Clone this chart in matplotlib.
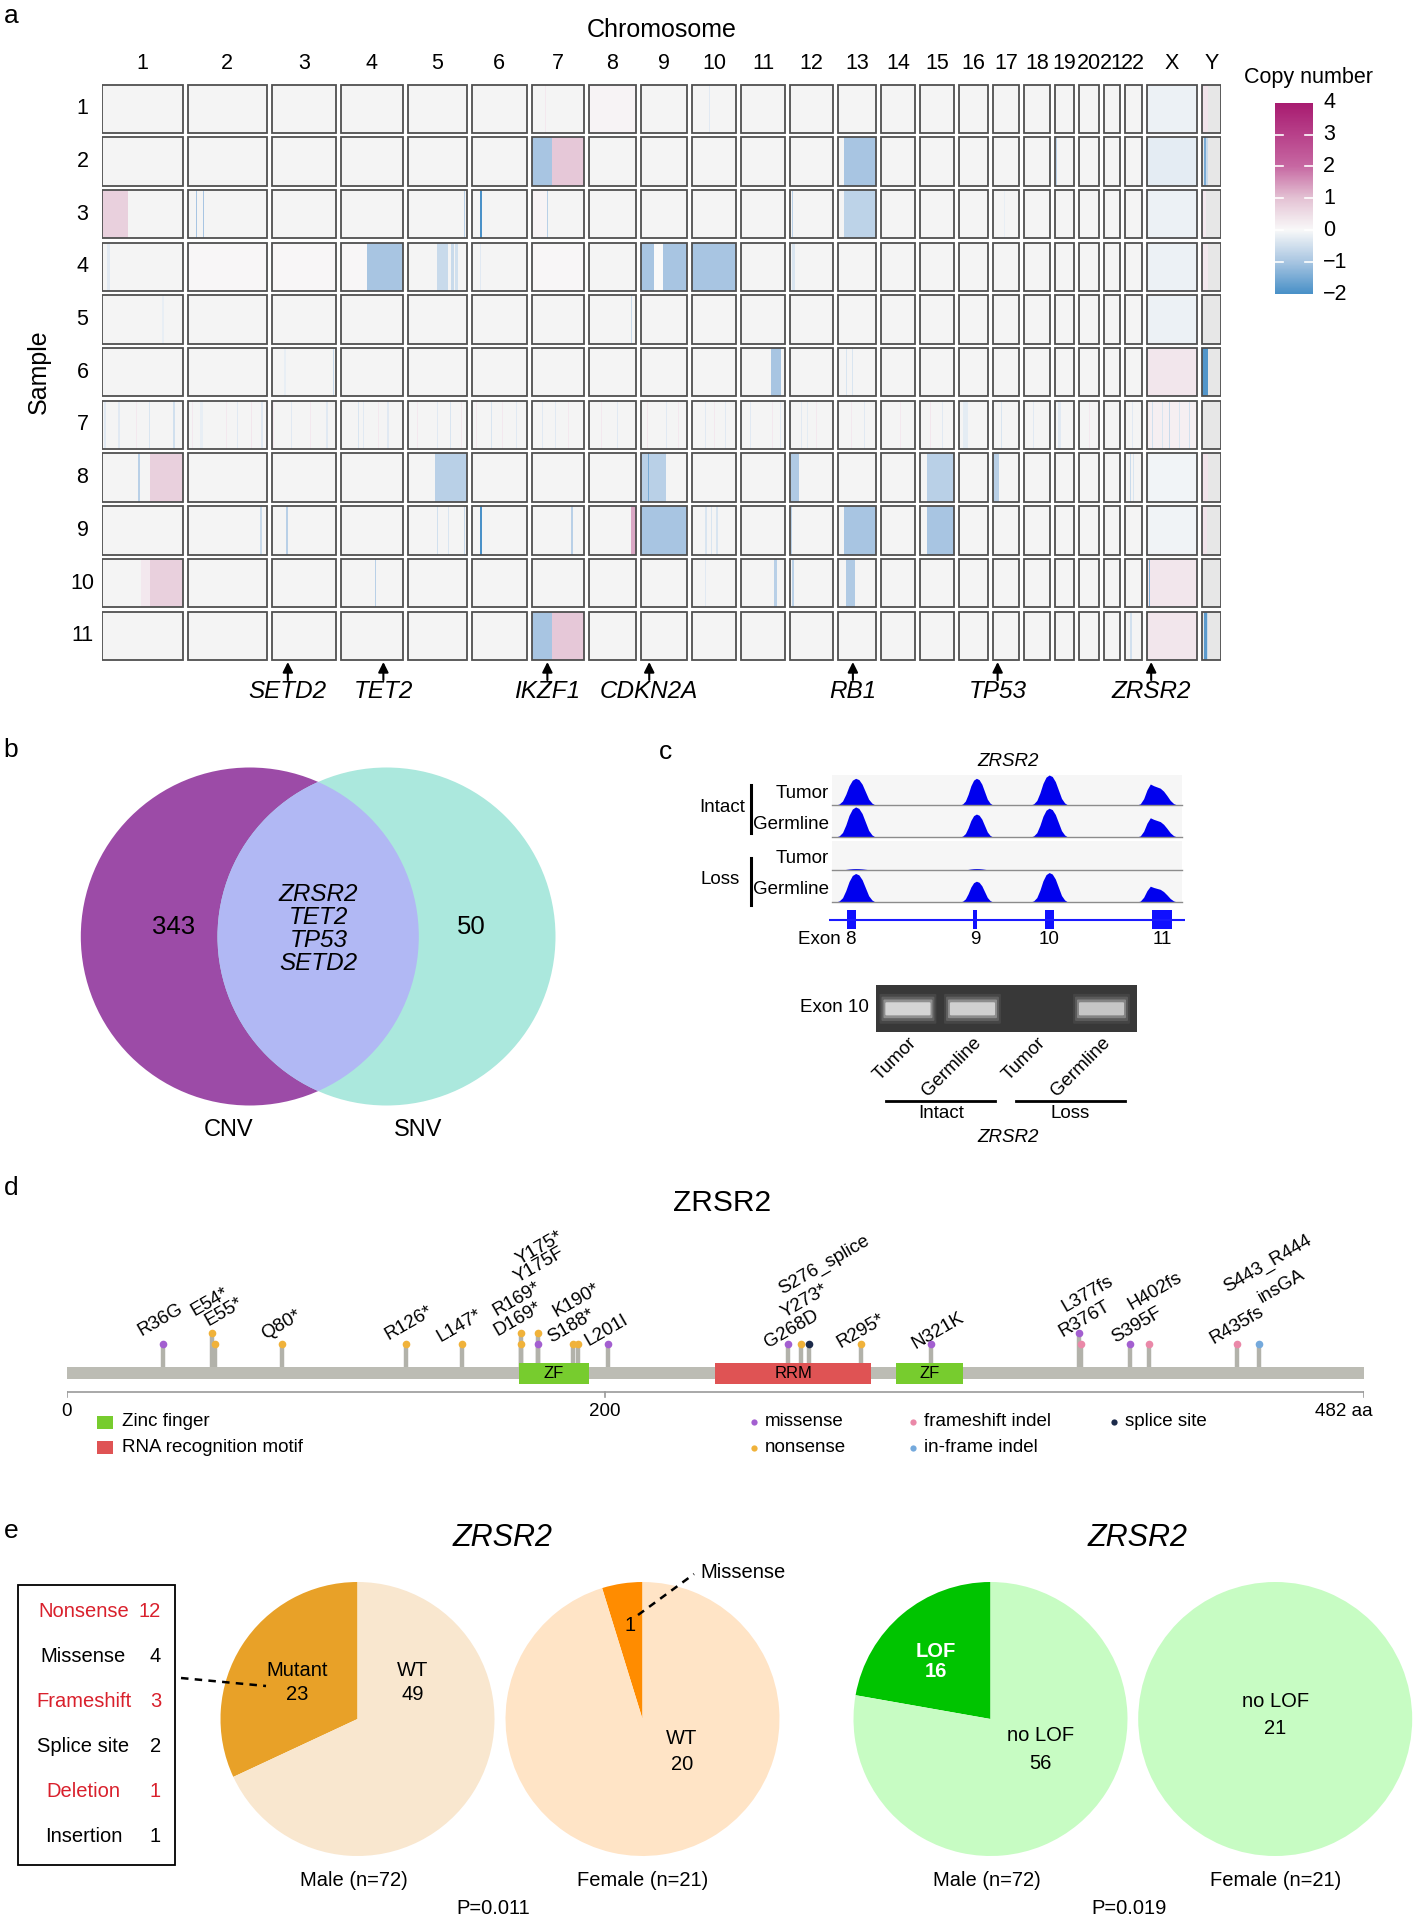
import numpy as np
import matplotlib
matplotlib.use("Agg")
import matplotlib.pyplot as plt
import matplotlib.transforms as mtransforms
from matplotlib.colors import LinearSegmentedColormap, Normalize
from matplotlib.patches import Rectangle, Circle, FancyBboxPatch

plt.rcParams["font.family"] = ["Liberation Sans", "DejaVu Sans"]

W, H = 1417, 1920

# ---------------- panel a: copy number heatmap ----------------
chrom_names = [str(i) for i in range(1, 23)] + ["X", "Y"]
chrom_len_mb = [249.3, 243.2, 198.0, 191.2, 180.9, 171.1, 159.1, 146.4, 141.2, 135.5, 135.0, 133.9,
                115.2, 107.3, 102.5, 90.4, 81.2, 78.1, 59.1, 63.0, 48.1, 51.3, 155.3, 59.4]
sample_ids = list(range(1, 12))

# segments per sample: (chromosome, start fraction, end fraction, copy number value)
cnv_s1 = [("7", 0.24, 0.26, 0.3), ("8", 0.0, 1.0, 0.12), ("10", 0.38, 0.40, -0.3),
          ("X", 0.0, 1.0, -0.15), ("Y", 0.0, 0.3, 0.4)]
cnv_s2 = [("7", 0.0, 0.38, -1.0), ("7", 0.38, 1.0, 0.9), ("13", 0.15, 1.0, -1.0), ("19", 0.08, 0.14, -0.8),
          ("X", 0.0, 1.0, -0.25), ("Y", 0.08, 0.2, -1.5), ("Y", 0.2, 0.3, -0.6)]
cnv_s3 = [("1", 0.0, 0.33, 0.75), ("2", 0.10, 0.12, -1.0), ("2", 0.19, 0.21, -1.0), ("5", 0.96, 0.98, -0.8),
          ("6", 0.16, 0.18, -2.0), ("7", 0.0, 0.28, 0.12), ("7", 0.28, 0.31, -0.8), ("12", 0.04, 0.08, -0.8),
          ("13", 0.15, 1.0, -0.75), ("17", 0.4, 0.45, -0.2), ("X", 0.0, 1.0, -0.15), ("Y", 0.0, 0.2, 0.3)]
cnv_s4 = [("1", 0.07, 0.10, -0.3), ("2", 0.0, 1.0, 0.06), ("3", 0.0, 1.0, 0.05), ("4", 0.0, 0.42, 0.05),
          ("4", 0.42, 1.0, -1.0), ("5", 0.5, 0.68, -0.6), ("5", 0.74, 0.78, -0.6), ("5", 0.80, 0.86, -0.5),
          ("6", 0.15, 0.17, -0.3), ("7", 0.0, 1.0, 0.06), ("9", 0.0, 0.27, -1.0), ("9", 0.27, 0.48, 0.0),
          ("9", 0.48, 1.0, -1.0), ("10", 0.0, 1.0, -1.0), ("12", 0.04, 0.12, -0.4),
          ("X", 0.0, 1.0, -0.15), ("Y", 0.0, 0.3, 0.3)]
cnv_s5 = [("1", 0.75, 0.77, -0.2), ("8", 0.88, 0.90, -0.6), ("X", 0.0, 1.0, -0.15)]
cnv_s6 = [("3", 0.2, 0.22, -0.2), ("3", 0.95, 0.97, -0.6), ("11", 0.68, 0.92, -1.0), ("13", 0.2, 0.22, -0.4),
          ("13", 0.38, 0.40, -0.4), ("X", 0.0, 1.0, 0.35), ("Y", 0.0, 0.32, -1.9)]
cnv_s7 = [("1", 0.03, 0.05, -0.3), ("1", 0.12, 0.13, 0.3), ("1", 0.2, 0.22, -0.3), ("1", 0.42, 0.44, 0.3),
          ("1", 0.58, 0.6, -0.4), ("1", 0.88, 0.9, -0.5), ("2", 0.05, 0.07, 0.3), ("2", 0.15, 0.2, -0.2),
          ("2", 0.48, 0.5, 0.3), ("2", 0.62, 0.64, -0.3), ("2", 0.8, 0.82, 0.35), ("2", 0.93, 0.95, -0.3),
          ("3", 0.02, 0.04, 0.3), ("3", 0.3, 0.32, -0.3), ("3", 0.6, 0.62, 0.3), ("3", 0.85, 0.87, -0.3),
          ("4", 0.28, 0.3, -0.4), ("4", 0.36, 0.38, -0.3), ("4", 0.6, 0.62, 0.3), ("4", 0.75, 0.77, -0.3),
          ("5", 0.15, 0.17, 0.3), ("5", 0.5, 0.52, -0.3), ("5", 0.72, 0.74, -0.4), ("5", 0.9, 0.92, 0.3),
          ("6", 0.08, 0.1, 0.3), ("6", 0.35, 0.37, -0.4), ("6", 0.55, 0.57, 0.3), ("6", 0.8, 0.82, -0.3),
          ("7", 0.2, 0.22, -0.3), ("7", 0.45, 0.47, -0.3), ("7", 0.7, 0.72, 0.3), ("8", 0.25, 0.27, 0.3),
          ("8", 0.6, 0.62, -0.3), ("9", 0.12, 0.14, 0.35), ("9", 0.55, 0.57, -0.3), ("9", 0.8, 0.82, 0.3),
          ("10", 0.3, 0.32, -0.3), ("10", 0.5, 0.52, 0.3), ("10", 0.75, 0.77, -0.3), ("11", 0.2, 0.22, -0.3),
          ("11", 0.7, 0.72, 0.3), ("11", 0.9, 0.92, -0.3), ("12", 0.25, 0.27, -0.3), ("12", 0.4, 0.42, -0.25),
          ("12", 0.6, 0.62, 0.3), ("13", 0.35, 0.37, 0.3), ("13", 0.7, 0.72, -0.3), ("14", 0.2, 0.22, -0.3),
          ("14", 0.55, 0.57, 0.3), ("15", 0.3, 0.32, 0.35), ("15", 0.65, 0.67, -0.3), ("16", 0.15, 0.3, -0.25),
          ("17", 0.1, 0.12, 0.3), ("17", 0.3, 0.33, -0.4), ("18", 0.35, 0.38, -0.3), ("19", 0.15, 0.3, -0.3),
          ("20", 0.5, 0.54, 0.3), ("21", 0.2, 0.26, -1.0), ("22", 0.45, 0.5, -0.3), ("X", 0.0, 1.0, 0.2),
          ("X", 0.1, 0.12, -0.5), ("X", 0.3, 0.32, -0.4), ("X", 0.45, 0.47, -0.6), ("X", 0.65, 0.67, -0.4),
          ("X", 0.85, 0.87, -0.5)]
cnv_s8 = [("1", 0.45, 0.47, -0.8), ("1", 0.6, 1.0, 0.75), ("5", 0.46, 1.0, -0.8), ("9", 0.0, 0.55, -0.8),
          ("9", 0.14, 0.16, -1.5), ("12", 0.02, 0.2, -0.9), ("15", 0.2, 1.0, -0.8), ("17", 0.0, 0.22, -0.8),
          ("22", 0.3, 0.36, -0.6), ("22", 0.5, 0.53, -0.4), ("X", 0.0, 1.0, -0.1), ("Y", 0.0, 0.3, 0.4)]
cnv_s9 = [("2", 0.92, 0.94, -0.6), ("3", 0.23, 0.26, -0.8), ("5", 0.5, 0.52, -0.5), ("5", 0.68, 0.70, -0.4),
          ("5", 0.95, 0.97, -0.6), ("6", 0.16, 0.18, -2.0), ("7", 0.75, 0.80, -0.8), ("8", 0.88, 1.0, 1.3),
          ("9", 0.0, 1.0, -1.0), ("10", 0.30, 0.35, -0.4), ("10", 0.42, 0.45, -0.4), ("10", 0.55, 0.60, -0.4),
          ("12", 0.02, 0.06, -0.8), ("13", 0.15, 1.0, -1.0), ("15", 0.2, 1.0, -1.0),
          ("X", 0.0, 1.0, -0.12), ("Y", 0.0, 0.25, 0.4)]
cnv_s10 = [("1", 0.49, 0.6, 0.3), ("1", 0.6, 1.0, 0.75), ("4", 0.55, 0.57, -0.8), ("10", 0.3, 0.32, -0.3),
           ("11", 0.76, 0.82, -0.8), ("12", 0.05, 0.10, -0.8), ("13", 0.2, 0.45, -0.9),
           ("X", 0.0, 1.0, 0.35), ("X", 0.04, 0.06, -1.5)]
cnv_s11 = [("7", 0.0, 0.38, -1.0), ("7", 0.38, 1.0, 0.9), ("22", 0.3, 0.4, -0.5), ("X", 0.0, 1.0, 0.35),
           ("Y", 0.1, 0.25, -1.8), ("Y", 0.25, 0.32, -0.6)]
cnv_by_sample = [cnv_s1, cnv_s2, cnv_s3, cnv_s4, cnv_s5, cnv_s6, cnv_s7, cnv_s8, cnv_s9, cnv_s10, cnv_s11]

arrow_genes = ["SETD2", "TET2", "IKZF1", "CDKN2A", "RB1", "TP53", "ZRSR2"]
arrow_chroms = ["3", "4", "7", "9", "13", "17", "X"]
arrow_pos_mb = [50, 131, 47, 24.6, 45, 14, 14]

cbar_ticks = [4, 3, 2, 1, 0, -1, -2]

# ---------------- panel b: Venn ----------------
venn_sets = ["CNV", "SNV"]
venn_only = [343, 50]
venn_shared = ["ZRSR2", "TET2", "TP53", "SETD2"]

# ---------------- panel c: coverage tracks and gel ----------------
track_names = ["Tumor", "Germline", "Tumor", "Germline"]
track_groups = ["Intact", "Loss"]
exon_labels = ["Exon 8", "9", "10", "11"]
exon_start = [4.3, 40.3, 60.9, 91.6]
exon_end = [6.9, 41.5, 63.5, 97.2]
peak_start = [1.2, 36.6, 56.8, 87.2]
peak_end = [12.4, 46.0, 67.4, 98.6]
peak_height = [[0.89, 0.89, 1.0, 0.70],
               [0.97, 0.74, 0.93, 0.62],
               [0.05, 0.05, 0.0, 0.0],
               [0.92, 0.67, 0.95, 0.51]]
peak_shape = [0, 0.04, 0.15, 0.4, 0.72, 0.93, 1.0, 0.95, 0.78, 0.5, 0.22, 0.07, 0]
peak_shape_last = [0, 0.06, 0.3, 0.72, 1.0, 0.92, 0.86, 0.8, 0.66, 0.45, 0.22, 0.07, 0]
gel_lanes = ["Tumor", "Germline", "Tumor", "Germline"]
gel_band = [1.0, 0.95, 0.0, 0.85]

# ---------------- panel d: lollipop ----------------
protein_len = 482
domain_names = ["ZF", "RRM", "ZF"]
domain_start = [168, 241, 308]
domain_end = [194, 299, 333]
mut_names = ["R36G", "E54*", "E55*", "Q80*", "R126*", "L147*", "R169*", "D169*", "Y175*", "Y175F",
             "S188*", "K190*", "L201I", "G268D", "Y273*", "S276_splice", "R295*", "N321K",
             "R376T", "L377fs", "S395F", "H402fs", "R435fs", "S443_R444insGA"]
mut_pos = [36, 54, 55, 80, 126, 147, 169, 169, 175, 175, 188, 190, 201, 268, 273, 276, 295, 321,
           376, 377, 395, 402, 435, 443]
mut_type = ["missense", "nonsense", "nonsense", "nonsense", "nonsense", "nonsense", "nonsense", "nonsense",
            "nonsense", "missense", "nonsense", "nonsense", "missense", "missense", "nonsense", "splice site",
            "nonsense", "missense", "missense", "frameshift indel", "missense", "frameshift indel",
            "frameshift indel", "in-frame indel"]
mut_level = [1, 2, 1, 1, 1, 1, 2, 1, 2, 1, 1, 1, 1, 1, 1, 1, 1, 1, 2, 1, 1, 1, 1, 1]
label_text = ["R36G", "E54*", "E55*", "Q80*", "R126*", "L147*", "R169*", "D169*", "Y175*", "Y175F",
              "S188*", "K190*", "L201I", "G268D", "Y273*", "S276_splice", "R295*", "N321K",
              "R376T", "L377fs", "S395F", "H402fs", "R435fs", "S443_R444", "insGA"]
type_order = ["missense", "nonsense", "frameshift indel", "in-frame indel", "splice site"]
type_colors = ["#a35fd0", "#f0b23a", "#ea88a8", "#74a9dc", "#1c2a4a"]

# ---------------- panel e: pies ----------------
pie_groups = ["Male (n=72)", "Female (n=21)"]
mut_male = [23, 49]
mut_female = [1, 20]
lof_male = [16, 56]
lof_female = [0, 21]
p_values = ["P=0.011", "P=0.019"]
kind_names = ["Nonsense", "Missense", "Frameshift", "Splice site", "Deletion", "Insertion"]
kind_counts = [12, 4, 3, 2, 1, 1]
kind_lof = [True, False, True, False, True, False]

# ================= drawing =================
fig = plt.figure(figsize=(W / 100, H / 100), dpi=100)
TOP = mtransforms.Affine2D().scale(1 / W, -1 / H).translate(0, 1) + fig.transFigure


def add_ax(left, top, right, bottom):
    return fig.add_axes([left / W, 1 - bottom / H, (right - left) / W, (bottom - top) / H])


def ftext(x, y, s, **kw):
    kw.setdefault("ha", "center")
    kw.setdefault("va", "center")
    return fig.text(x / W, 1 - y / H, s, **kw)


for letter, (lx, ly) in zip("abcde", [(11, 16), (11, 750), (665, 752), (11, 1188), (11, 1531)]):
    ftext(lx, ly, letter, fontsize=19)

# ---- panel a
cmap = LinearSegmentedColormap.from_list(
    "cn", [(0, "#4a91c8"), (1 / 6, "#a9c6e2"), (2 / 6, "#f9f9f9"), (3 / 6, "#e4c2d4"),
           (4 / 6, "#c768a2"), (5 / 6, "#b8418a"), (1, "#a81b70")])
norm = Normalize(-2, 4)
gap_mb = 15.4
starts = np.concatenate([[0], np.cumsum(np.array(chrom_len_mb) + gap_mb)[:-1]])
total = starts[-1] + chrom_len_mb[-1]
chrom_start = dict(zip(chrom_names, starts))
chrom_size = dict(zip(chrom_names, chrom_len_mb))

ax_a = add_ax(101.8, 82.4, 1221.3, 662.1)
ax_a.set_xlim(0, total)
ax_a.set_ylim(len(sample_ids), 0)
ax_a.axis("off")
cell_gap = 0.08
for i, segs in enumerate(cnv_by_sample):
    for c in chrom_names:
        bg = "#e7e7e7" if c == "Y" else "#f4f4f4"
        ax_a.add_patch(Rectangle((chrom_start[c], i + cell_gap / 2), chrom_size[c], 1 - cell_gap,
                                 facecolor=bg, edgecolor="none", zorder=1))
    for c, a, b, v in segs:
        ax_a.add_patch(Rectangle((chrom_start[c] + a * chrom_size[c], i + cell_gap / 2),
                                 (b - a) * chrom_size[c], 1 - cell_gap,
                                 facecolor=cmap(norm(v)), edgecolor="none", zorder=2))
    for c in chrom_names:
        ax_a.add_patch(Rectangle((chrom_start[c], i + cell_gap / 2), chrom_size[c], 1 - cell_gap,
                                 fill=False, edgecolor="#4f4f4f", lw=1.3, zorder=3))

blend_a = mtransforms.blended_transform_factory(ax_a.transData, TOP)
for c in chrom_names:
    ax_a.text(chrom_start[c] + chrom_size[c] / 2, 63.5, c, transform=blend_a,
              ha="center", va="center", fontsize=15.5)
blend_rows = mtransforms.blended_transform_factory(TOP, ax_a.transData)
for i, s in enumerate(sample_ids):
    fig.text(82.5, i + 0.5, str(s), transform=blend_rows, ha="center", va="center", fontsize=15.5)
ftext(661.5, 30, "Chromosome", fontsize=18)
ftext(39, 372, "Sample", fontsize=18, rotation=90)

for g, c, p in zip(arrow_genes, arrow_chroms, arrow_pos_mb):
    x = chrom_start[c] + p
    ax_a.annotate("", xy=(x, 662), xycoords=blend_a, xytext=(x, 680), textcoords=blend_a,
                  arrowprops=dict(arrowstyle="-|>", color="black", lw=1.5, mutation_scale=15,
                                  shrinkA=0, shrinkB=0))
    ax_a.text(x, 692, g, transform=blend_a, ha="center", va="center", fontsize=17.5, style="italic")

ax_cb = add_ax(1275, 102.7, 1313, 294)
ax_cb.imshow(np.linspace(4, -2, 300)[:, None], aspect="auto", cmap=cmap, norm=norm,
             extent=[0, 1, -2, 4])
for v in cbar_ticks[1:-1]:
    ax_cb.plot([0, 0.2], [v, v], color="white", lw=1.2)
    ax_cb.plot([0.8, 1], [v, v], color="white", lw=1.2)
ax_cb.set_xlim(0, 1)
ax_cb.set_ylim(-2, 4)
ax_cb.axis("off")
blend_cb = mtransforms.blended_transform_factory(TOP, ax_cb.transData)
for v in cbar_ticks:
    fig.text(1323, v, str(v).replace("-", "\u2212"), transform=blend_cb, ha="left", va="center", fontsize=15.5)
ftext(1308, 77, "Copy number", fontsize=15.5)

# ---- panel b
ax_b = add_ax(60, 745, 580, 1150)
ax_b.set_xlim(60, 580)
ax_b.set_ylim(1150, 745)
ax_b.axis("off")
c_left = Circle((249.8, 936.5), 169, facecolor="#9c4ba7", edgecolor="none")
c_right = Circle((386.5, 936.5), 169, facecolor="#abe8dd", edgecolor="none")
ax_b.add_patch(c_left)
ax_b.add_patch(c_right)
c_mid = Circle((386.5, 936.5), 169, facecolor="#b1b8f4", edgecolor="none")
ax_b.add_patch(c_mid)
c_mid.set_clip_path(c_left)
ax_b.text(173.5, 927, str(venn_only[0]), ha="center", va="center", fontsize=18.5)
ax_b.text(471.4, 927, str(venn_only[1]), ha="center", va="center", fontsize=18.5)
for k, g in enumerate(venn_shared):
    ax_b.text(318.4, 894 + 23 * k, g, ha="center", va="center", fontsize=17.5, style="italic")
ax_b.text(228.6, 1130, venn_sets[0], ha="center", va="center", fontsize=17)
ax_b.text(418.4, 1130, venn_sets[1], ha="center", va="center", fontsize=17)

# ---- panel c
ax_c = add_ax(829, 770, 1184.6, 945)
ax_c.set_xlim(-0.8, 100.8)
ax_c.set_ylim(945, 770)
ax_c.axis("off")
track_top = [775, 806, 841, 871]
track_base = [805, 837, 870, 902]
for t in range(4):
    ax_c.add_patch(Rectangle((0, track_top[t]), 100, track_base[t] - track_top[t],
                             facecolor="#f6f6f6", edgecolor="none"))
    ax_c.plot([0, 100], [track_base[t], track_base[t]], color="#8c8c8c", lw=1)
    th = track_base[t] - track_top[t]
    for e in range(4):
        shape = peak_shape_last if e == 3 else peak_shape
        xs = np.linspace(peak_start[e], peak_end[e], len(shape))
        ys = track_base[t] - th * peak_height[t][e] * np.array(shape)
        ax_c.fill_between(xs, track_base[t], ys, color="#0000ee", lw=0)
    ax_c.text(-0.9, (track_top[t] + track_base[t]) / 2 + 3, track_names[t], ha="right", va="center",
              fontsize=13.5)
ax_c.plot([-0.8, 100.8], [920, 920], color="#1a1aff", lw=1.5)
for e in range(4):
    ax_c.add_patch(Rectangle((exon_start[e], 910), exon_end[e] - exon_start[e], 19,
                             facecolor="#1010ff", edgecolor="none"))
    xc = (exon_start[e] + exon_end[e]) / 2
    if e == 0:
        ax_c.text(exon_end[e] + 0.3, 940, exon_labels[e], ha="right", va="center", fontsize=13.5)
    else:
        ax_c.text(xc, 940, exon_labels[e], ha="center", va="center", fontsize=13.5)

ax_gel = add_ax(875.7, 985, 1137, 1031.7)
ax_gel.set_facecolor("#383838")
ax_gel.set_xlim(-0.5, 3.55)
ax_gel.set_ylim(0, 1)
ax_gel.set_xticks([])
ax_gel.set_yticks([])
for sp in ax_gel.spines.values():
    sp.set_visible(False)
glow = [(0.42, 0.30, 0.18, "#8c8c8c"), (0.39, 0.24, 0.28, "#a8a8a8"), (0.36, 0.18, 0.45, "#c8c8c8"),
        (0.33, 0.12, 0.8, "#e6e6e6")]
for k, b in enumerate(gel_band):
    if b <= 0:
        continue
    for hw, hh, al, col in glow:
        ax_gel.add_patch(FancyBboxPatch((k - hw, 0.49 - hh), 2 * hw, 2 * hh, boxstyle="round,pad=0.02",
                                        facecolor=col, edgecolor="none", alpha=al * b))
blend_gel = mtransforms.blended_transform_factory(ax_gel.transData, TOP)
for k, name in enumerate(gel_lanes):
    fig.text(k + 0.1, 1040, name, transform=blend_gel, ha="right", va="center", rotation=45,
             rotation_mode="anchor", fontsize=13.5)

# ---- panel d
ax_d = add_ax(66.5, 1225, 1364, 1460)
ax_d.set_xlim(0, protein_len)
ax_d.set_ylim(1460, 1225)
ax_d.axis("off")
level_y = {1: 1344, 2: 1333}
for p, lv in zip(mut_pos, mut_level):
    ax_d.plot([p, p], [1370, level_y[lv]], color="#b2b2aa", lw=3.2, solid_capstyle="butt", zorder=1)
ax_d.add_patch(Rectangle((0, 1367), protein_len, 12, facecolor="#bcbcb4", edgecolor="none", zorder=2))
dom_colors = {"ZF": "#77cc2e", "RRM": "#df5354"}
for n, a, b in zip(domain_names, domain_start, domain_end):
    ax_d.add_patch(Rectangle((a, 1363), b - a, 21, facecolor=dom_colors[n], edgecolor="none", zorder=3))
    ax_d.text((a + b) / 2, 1374, n, ha="center", va="center", fontsize=12, zorder=4)
for p, lv, t in zip(mut_pos, mut_level, mut_type):
    ax_d.plot(p, level_y[lv], "o", color=type_colors[type_order.index(t)], ms=5.5, mec="none", zorder=5)
label_xy = [(35.0, 1320), (53.2, 1301.7), (58.4, 1311.7), (79.7, 1325), (127.1, 1323), (145.8, 1326),
            (167.2, 1299), (167.5, 1319), (175.7, 1248), (175.7, 1265.7), (187.6, 1326.7), (189.6, 1300.7),
            (200.8, 1330), (269.3, 1329.3), (274.1, 1301.7), (281.5, 1265), (295.1, 1330.7), (323.7, 1330.7),
            (378.3, 1319), (379.2, 1294), (397.5, 1325.7), (404.3, 1291.7), (434.9, 1325), (446.3, 1264),
            (451.4, 1286.7)]
for s, (lx, ly) in zip(label_text, label_xy):
    ax_d.text(lx, ly, s, ha="center", va="center", rotation=30, rotation_mode="anchor", fontsize=13.5)
ax_d.plot([0, protein_len], [1392, 1392], color="#9a9a9a", lw=1.2)
for tk in [0, 200, protein_len]:
    ax_d.plot([tk, tk], [1392, 1397], color="#9a9a9a", lw=1.2)
ax_d.text(0, 1412, "0", ha="center", va="center", fontsize=13.5)
ax_d.text(200, 1412, "200", ha="center", va="center", fontsize=13.5)
ax_d.text(474.4, 1412, "482 aa", ha="center", va="center", fontsize=13.5)
ftext(722, 1203, "ZRSR2", fontsize=21.5)

# ---- panel e
def pie_ax(cx, cy, r=137):
    ax = add_ax(cx - r, cy - r, cx + r, cy + r)
    return ax


pie_specs = [(357.5, mut_male, ["#e8a128", "#f9e7cf"]),
             (642.5, mut_female, ["#ff8c00", "#ffe4c6"]),
             (990.5, lof_male, ["#00c400", "#c7fcc3"]),
             (1275.2, lof_female, ["#00c400", "#c7fcc3"])]
pie_axes = []
for cx, vals, cols in pie_specs:
    ax = pie_ax(cx, 1719)
    ax.pie(vals, colors=cols, startangle=90, counterclock=True, radius=1,
           wedgeprops=dict(linewidth=0))
    ax.set_xlim(-1, 1)
    ax.set_ylim(-1, 1)
    ax.set_aspect("equal")
    pie_axes.append(ax)

pie_axes[0].text(-0.44, 0.266, "Mutant\n%d" % mut_male[0], ha="center", va="center", fontsize=14.5,
                 linespacing=1.3)
pie_axes[0].text(0.405, 0.266, "WT\n%d" % mut_male[1], ha="center", va="center", fontsize=14.5,
                 linespacing=1.3)
pie_axes[1].text(-0.093, 0.68, "%d" % mut_female[0], ha="center", va="center", fontsize=14.5)
pie_axes[1].text(0.287, -0.237, "WT\n%d" % mut_female[1], ha="center", va="center", fontsize=14.5,
                 linespacing=1.45)
pie_axes[2].text(-0.40, 0.42, "LOF\n%d" % lof_male[0], ha="center", va="center", fontsize=14.5,
                 color="white", fontweight="bold", linespacing=1.05)
pie_axes[2].text(0.365, -0.225, "no LOF\n%d" % lof_male[1], ha="center", va="center", fontsize=14.5,
                 linespacing=1.6)
pie_axes[3].text(0.0, 0.03, "no LOF\n%d" % lof_female[1], ha="center", va="center", fontsize=14.5,
                 linespacing=1.5)

ftext(502.8, 1538, "ZRSR2", fontsize=22, style="italic")
ftext(1137.6, 1538, "ZRSR2", fontsize=22, style="italic")
for x, s in zip([353.5, 642.8, 986.5, 1275.2], pie_groups * 2):
    ftext(x, 1881, s, fontsize=14.5)
ftext(493.6, 1908, p_values[0], fontsize=14.5)
ftext(1128.9, 1908, p_values[1], fontsize=14.5)
ftext(700, 1572, "Missense", fontsize=14.5, ha="left")

# ---- overlay for layout marks (brackets, legends, leaders)
ax_o = add_ax(0, 0, W, H)
ax_o.set_xlim(0, W)
ax_o.set_ylim(H, 0)
ax_o.axis("off")

# panel c labels and brackets
ftext(1008, 762, "ZRSR2", fontsize=13.5, style="italic")
ftext(721.8, 808, track_groups[0], fontsize=13.5)
ftext(720, 880, track_groups[1], fontsize=13.5)
ax_o.plot([751.4, 751.4], [785, 833], color="black", lw=2.2)
ax_o.plot([751.4, 751.4], [857.7, 905], color="black", lw=2.2)
ftext(868.6, 1008, "Exon 10", fontsize=13.5, ha="right")
ax_o.plot([886.4, 995.4], [1100.7, 1100.7], color="black", lw=2)
ax_o.plot([1016, 1125], [1100.7, 1100.7], color="black", lw=2)
ftext(941, 1114, track_groups[0], fontsize=13.5)
ftext(1070, 1114, track_groups[1], fontsize=13.5)
ftext(1008, 1138, "ZRSR2", fontsize=13.5, style="italic")

# panel d legends
ax_o.add_patch(Rectangle((97.3, 1415.5), 16, 13, facecolor="#77cc2e", edgecolor="none"))
ax_o.add_patch(Rectangle((97.3, 1440.5), 16, 13, facecolor="#df5354", edgecolor="none"))
ftext(121.7, 1422, "Zinc finger", fontsize=13.5, ha="left")
ftext(121.7, 1447, "RNA recognition motif", fontsize=13.5, ha="left")
leg_xy = [(754, 1422), (754, 1447.7), (912.6, 1422), (912.6, 1447.7), (1113.8, 1422)]
for (lx, ly), t, col in zip(leg_xy, type_order, type_colors):
    ax_o.plot(lx, ly, "o", color=col, ms=4.5, mec="none")
    ftext(lx + 11, ly, t, fontsize=13.5, ha="left")

# panel e box and leaders
ax_o.add_patch(Rectangle((18.4, 1585), 157, 280, fill=False, edgecolor="black", lw=1.3))
for k, (nm, cnt, lof) in enumerate(zip(kind_names, kind_counts, kind_lof)):
    col = "#d9202c" if lof else "black"
    y = 1611.7 + 44.9 * k
    ftext(83.5, y, nm, fontsize=14.5, color=col)
    ftext(161, y, str(cnt), fontsize=14.5, color=col, ha="right")
ax_o.plot([181, 266], [1678, 1686], color="black", lw=1.8, ls=(0, (3, 2.5)))
ax_o.plot([638, 694], [1615, 1574], color="black", lw=1.8, ls=(0, (3, 2.5)))

fig.savefig("out.png", dpi=100)
